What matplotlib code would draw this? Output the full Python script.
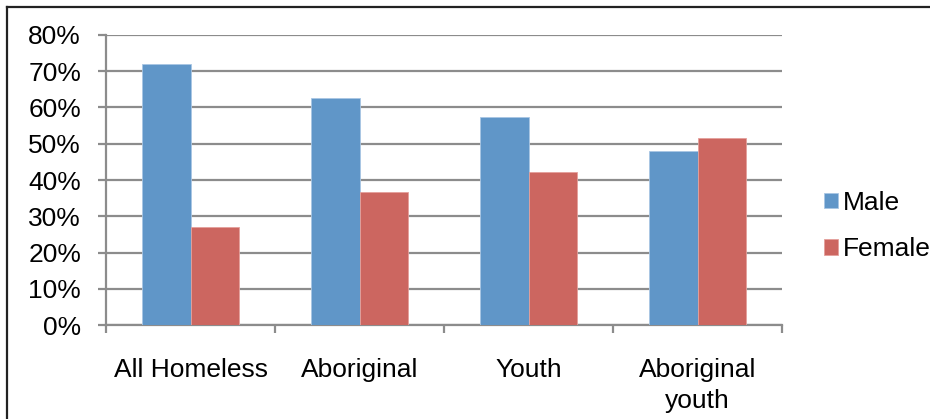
import numpy as np
import matplotlib.pyplot as plt
from matplotlib.lines import Line2D
from matplotlib.ticker import FuncFormatter

plt.rcParams['font.family'] = ['Liberation Sans', 'DejaVu Sans']

categories = ['All Homeless', 'Aboriginal', 'Youth', 'Aboriginal\nyouth']
male = [72.0, 62.6, 57.3, 48.1]
female = [27.0, 36.8, 42.3, 51.5]
yticks = [0, 10, 20, 30, 40, 50, 60, 70, 80]

blue = '#6096c8'
red = '#cc6660'
grid = '#8c8c8c'

W, H = 930, 419
fig = plt.figure(figsize=(W / 100, H / 100), dpi=100)

# outer chart frame: only the top and left edges fall inside the image
fig.add_artist(Line2D([6.5 / W, 6.5 / W], [0, 1 - 7 / H], transform=fig.transFigure,
                      color='#222222', linewidth=1.6, solid_capstyle='projecting'))
fig.add_artist(Line2D([6.5 / W, 1], [1 - 7 / H, 1 - 7 / H], transform=fig.transFigure,
                      color='#222222', linewidth=1.6, solid_capstyle='projecting'))

ax = fig.add_axes([106 / W, 94 / H, (782 - 106) / W, (384 - 94) / H])
x = np.arange(len(categories))
bw = 1 / 3.5
ax.bar(x - bw / 2, male, bw, color=blue, edgecolor='#a9c6e4', linewidth=0.6,
       label='Male', zorder=3)
ax.bar(x + bw / 2, female, bw, color=red, edgecolor='#e4a09b', linewidth=0.6,
       label='Female', zorder=3)

ax.set_xlim(-0.5, 3.5)
ax.set_ylim(0, 80)
ax.set_yticks(yticks)
ax.yaxis.set_major_formatter(FuncFormatter(lambda v, p: '%d%%' % v))
ax.grid(axis='y', color=grid, linewidth=1.6, zorder=0)
ax.set_axisbelow(True)

# category separators as x ticks, labels centred on groups
ax.set_xticks(np.arange(-0.5, 4, 1))
ax.set_xticklabels([])
ax.set_xticks(x, minor=True)
ax.set_xticklabels(categories, minor=True, fontsize=19, linespacing=1.35)
ax.tick_params(axis='x', which='minor', length=0, pad=24)
ax.tick_params(axis='x', which='major', length=6, width=1.6, color=grid,
               direction='out')
ax.tick_params(axis='y', length=6, width=1.6, color=grid, direction='out',
               labelsize=19, pad=12)

for s in ['top', 'right']:
    ax.spines[s].set_visible(False)
for s in ['left', 'bottom']:
    ax.spines[s].set_color(grid)
    ax.spines[s].set_linewidth(1.6)

fig.legend(loc='center left', bbox_to_anchor=(813 / W, (H - 226) / H),
           frameon=False, fontsize=19, handlelength=0.55, handleheight=0.55,
           handletextpad=0.2, labelspacing=0.85, borderaxespad=0)

fig.savefig('out.png', dpi=100)
